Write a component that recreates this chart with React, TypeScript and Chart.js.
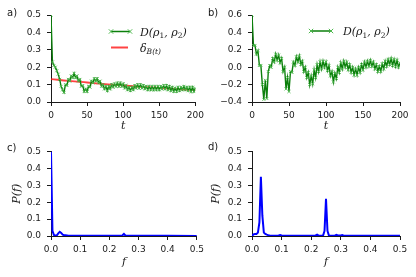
import React, { useEffect, useRef } from "react";
import { Chart, registerables } from "chart.js";

Chart.register(...registerables);
Chart.defaults.font.family = "DejaVu Sans";

// ---------- data ----------
const timeSteps = [
  0, 2, 4, 6, 8, 10, 12, 14, 16, 18,
  20, 22, 24, 26, 28, 30, 32, 34, 36, 38,
  40, 42, 44, 46, 48, 50, 52, 54, 56, 58,
  60, 62, 64, 66, 68, 70, 72, 74, 76, 78,
  80, 82, 84, 86, 88, 90, 92, 94, 96, 98,
  100, 102, 104, 106, 108, 110, 112, 114, 116, 118,
  120, 122, 124, 126, 128, 130, 132, 134, 136, 138,
  140, 142, 144, 146, 148, 150, 152, 154, 156, 158,
  160, 162, 164, 166, 168, 170, 172, 174, 176, 178,
  180, 182, 184, 186, 188, 190, 192, 194, 196, 198,
  200,
];

const distanceA = [
  0.50, 0.23, 0.21, 0.20, 0.18, 0.16, 0.13, 0.09, 0.07, 0.055,
  0.10, 0.095, 0.13, 0.12, 0.15, 0.14, 0.165, 0.14, 0.15, 0.12,
  0.13, 0.09, 0.095, 0.06, 0.075, 0.06, 0.09, 0.085, 0.12, 0.11,
  0.135, 0.12, 0.135, 0.11, 0.12, 0.09, 0.10, 0.075, 0.09, 0.065,
  0.09, 0.075, 0.10, 0.085, 0.105, 0.09, 0.11, 0.09, 0.11, 0.09,
  0.105, 0.08, 0.095, 0.07, 0.085, 0.065, 0.085, 0.07, 0.095, 0.08,
  0.10, 0.08, 0.10, 0.08, 0.095, 0.075, 0.09, 0.07, 0.09, 0.07,
  0.09, 0.07, 0.09, 0.07, 0.09, 0.07, 0.09, 0.075, 0.095, 0.075,
  0.095, 0.07, 0.09, 0.065, 0.085, 0.06, 0.08, 0.06, 0.085, 0.065,
  0.085, 0.07, 0.09, 0.07, 0.085, 0.065, 0.085, 0.06, 0.085, 0.06,
  0.08,
];

const boundTimes = [0, 25, 50, 75, 100, 125, 150, 175, 200];
const boundValues = [0.132, 0.121, 0.112, 0.103, 0.095, 0.087, 0.081, 0.074, 0.068];

const distanceB = [
  0.60, 0.25, 0.25, 0.15, 0.19, 0.02, 0.02, -0.20, -0.37, -0.15,
  -0.36, -0.05, 0.02, 0.00, 0.10, 0.06, 0.15, 0.08, 0.14, 0.05,
  0.10, -0.05, 0.00, -0.25, -0.12, -0.28, -0.05, -0.06, 0.06, 0.02,
  0.12, 0.06, 0.13, 0.03, 0.07, -0.05, 0.00, -0.12, -0.06, -0.20,
  -0.10, -0.19, -0.03, -0.12, 0.03, -0.05, 0.06, -0.02, 0.07, 0.00,
  0.06, -0.04, 0.02, -0.10, -0.05, -0.17, -0.07, -0.13, 0.00, -0.06,
  0.05, -0.02, 0.07, 0.00, 0.06, -0.03, 0.03, -0.06, 0.00, -0.09,
  -0.02, -0.09, 0.00, -0.06, 0.03, -0.03, 0.06, 0.00, 0.07, 0.01,
  0.08, 0.01, 0.06, -0.02, 0.03, -0.05, 0.01, -0.05, 0.04, -0.02,
  0.07, 0.01, 0.09, 0.03, 0.10, 0.02, 0.09, 0.01, 0.08, 0.00,
  0.05,
];

const freqC = [0, 0.005, 0.01, 0.015, 0.02, 0.025, 0.03, 0.035, 0.04, 0.045, 0.05, 0.06, 0.08, 0.1, 0.15, 0.2, 0.24, 0.245, 0.25, 0.255, 0.26, 0.3, 0.4, 0.5];
const powerC = [0.5, 0.03, 0.006, 0.002, 0.004, 0.016, 0.025, 0.018, 0.008, 0.005, 0.004, 0.002, 0.001, 0.001, 0.001, 0.001, 0.001, 0.004, 0.012, 0.003, 0.001, 0.001, 0.001, 0.0];

const freqD = [0, 0.005, 0.01, 0.015, 0.02, 0.025, 0.03, 0.035, 0.04, 0.045, 0.05, 0.055, 0.06, 0.07, 0.09, 0.095, 0.1, 0.12, 0.2, 0.215, 0.22, 0.225, 0.24, 0.245, 0.25, 0.255, 0.26, 0.28, 0.285, 0.29, 0.3, 0.305, 0.31, 0.35, 0.5];
const powerD = [0.0, 0.01, 0.012, 0.012, 0.02, 0.08, 0.35, 0.12, 0.02, 0.012, 0.008, 0.005, 0.003, 0.002, 0.003, 0.006, 0.003, 0.001, 0.001, 0.003, 0.008, 0.002, 0.002, 0.03, 0.22, 0.03, 0.002, 0.002, 0.007, 0.003, 0.003, 0.005, 0.002, 0.001, 0.001];

const timeTicks = [0, 50, 100, 150, 200];
const freqTicks = [0, 0.1, 0.2, 0.3, 0.4, 0.5];
const yTicksA = [0, 0.1, 0.2, 0.3, 0.4, 0.5];
const yTicksB = [-0.4, -0.2, 0, 0.2, 0.4, 0.6];
const yTicksP = [0, 0.1, 0.2, 0.3, 0.4, 0.5];

const labelD = "D(ρ1, ρ2)";
const labelDelta = "δB(t)";

// ---------- styling helpers ----------
const GREEN_LINE = "#0b7f0b";
const GREEN_MARK = "#4cb84c";
const RED = "rgba(255,20,20,0.8)";
const BLUE = "#0000ff";
const INK = "#1a1a1a";

const zip = (xs: number[], ys: number[]) => xs.map((x, i) => ({ x, y: ys[i] }));
const fmt1 = (v: number) => {
  const s = (Math.abs(v) < 1e-9 ? 0 : v).toFixed(1);
  return s.replace("-", "\u2212");
};

function fixedTicks(values: number[]) {
  return (scale: any) => {
    scale.ticks = values.map((v) => ({ value: v }));
  };
}

function xAxis(min: number, max: number, ticks: number[], title: string, fitH: number, titlePad: number, fmt: (v: number) => string) {
  return {
    type: "linear",
    min,
    max,
    afterBuildTicks: fixedTicks(ticks),
    afterFit: (s: any) => {
      s.height = fitH;
    },
    ticks: { color: INK, font: { size: 9 }, padding: 4, maxRotation: 0, autoSkip: false, callback: (v: any) => fmt(Number(v)) },
    grid: { display: true, drawOnChartArea: false, drawTicks: true, tickLength: 4, tickColor: INK, lineWidth: 1 },
    border: { display: true, color: INK, width: 1 },
    title: { display: true, text: title, color: INK, font: { family: "DejaVu Serif", style: "italic", size: 11 }, padding: { top: 0, bottom: titlePad } },
  };
}

function yAxis(min: number, max: number, ticks: number[], fitW: number, title: string | null, titlePad: number) {
  return {
    type: "linear",
    min,
    max,
    afterBuildTicks: fixedTicks(ticks),
    afterFit: (s: any) => {
      s.width = fitW;
    },
    ticks: { color: INK, font: { size: 9 }, padding: 6, autoSkip: false, callback: (v: any) => fmt1(Number(v)) },
    grid: { display: true, drawOnChartArea: false, drawTicks: true, tickLength: 4, tickColor: INK, lineWidth: 1 },
    border: { display: true, color: INK, width: 1 },
    title: title
      ? { display: true, text: title, color: INK, font: { family: "DejaVu Serif", style: "italic", size: 11 }, padding: { top: titlePad, bottom: 0 } }
      : { display: false },
  };
}

type Part = [string, "i" | "s" | "si"];

function drawMath(ctx: CanvasRenderingContext2D, x: number, y: number, parts: Part[]) {
  ctx.fillStyle = INK;
  ctx.textBaseline = "alphabetic";
  ctx.textAlign = "left";
  for (const [txt, kind] of parts) {
    if (kind === "i") {
      ctx.font = 'italic 11px "DejaVu Serif"';
      ctx.fillText(txt, x, y);
    } else if (kind === "s") {
      ctx.font = '7.5px "DejaVu Serif"';
      ctx.fillText(txt, x, y + 2.5);
    } else {
      ctx.font = 'italic 7.5px "DejaVu Serif"';
      ctx.fillText(txt, x, y + 2.5);
    }
    x += ctx.measureText(txt).width;
  }
}

function drawX(ctx: CanvasRenderingContext2D, x: number, y: number, r: number) {
  ctx.beginPath();
  ctx.moveTo(x - r, y - r);
  ctx.lineTo(x + r, y + r);
  ctx.moveTo(x - r, y + r);
  ctx.lineTo(x + r, y - r);
  ctx.stroke();
}

type LegendEntry = { kind: "green" | "red"; x0: number; x1: number; y: number; tx: number; parts: Part[] };

function legendPlugin(entries: LegendEntry[]) {
  return {
    id: "mathLegend",
    afterDraw(chart: any) {
      const ctx: CanvasRenderingContext2D = chart.ctx;
      ctx.save();
      for (const e of entries) {
        if (e.kind === "green") {
          ctx.strokeStyle = GREEN_LINE;
          ctx.lineWidth = 1.5;
          ctx.beginPath();
          ctx.moveTo(e.x0, e.y);
          ctx.lineTo(e.x1, e.y);
          ctx.stroke();
          ctx.strokeStyle = GREEN_MARK;
          ctx.lineWidth = 1;
          drawX(ctx, e.x0, e.y, 2.2);
          drawX(ctx, e.x1, e.y, 2.2);
        } else {
          ctx.strokeStyle = RED;
          ctx.lineWidth = 2;
          ctx.beginPath();
          ctx.moveTo(e.x0, e.y);
          ctx.lineTo(e.x1, e.y);
          ctx.stroke();
        }
        drawMath(ctx, e.tx, e.y + 4, e.parts);
      }
      ctx.restore();
    },
  };
}

const partsD: Part[] = [["D(ρ", "i"], ["1", "s"], [", ρ", "i"], ["2", "s"], [")", "i"]];
const partsDelta: Part[] = [["δ", "i"], ["B(t)", "si"]];

function greenDataset(ys: number[]) {
  return {
    label: labelD,
    data: zip(timeSteps, ys),
    borderColor: GREEN_LINE,
    borderWidth: 1.4,
    pointStyle: "crossRot",
    pointRadius: 2.1,
    pointBorderWidth: 0.9,
    pointBorderColor: GREEN_MARK,
    pointBackgroundColor: GREEN_MARK,
    tension: 0,
  };
}

function configA() {
  return {
    type: "line",
    data: {
      datasets: [
        greenDataset(distanceA),
        { label: labelDelta, data: zip(boundTimes, boundValues), borderColor: RED, borderWidth: 1.8, pointRadius: 0, tension: 0.4 },
      ],
    },
    options: {
      animation: false,
      responsive: false,
      layout: { padding: { left: 0, right: 10, top: 15, bottom: 0 } },
      plugins: { legend: { display: false }, tooltip: { enabled: false } },
      scales: {
        x: xAxis(0, 200, timeTicks, "t", 38, 7, (v) => String(Math.round(v))),
        y: yAxis(0, 0.5, yTicksA, 51, null, 0),
      },
    },
    plugins: [
      legendPlugin([
        { kind: "green", x0: 111, x1: 130, y: 31.5, tx: 140, parts: partsD },
        { kind: "red", x0: 111, x1: 128, y: 47.5, tx: 140, parts: partsDelta },
      ]),
    ],
  };
}

function configB() {
  return {
    type: "line",
    data: { datasets: [greenDataset(distanceB)] },
    options: {
      animation: false,
      responsive: false,
      layout: { padding: { left: 0, right: 16, top: 15, bottom: 0 } },
      plugins: { legend: { display: false }, tooltip: { enabled: false } },
      scales: {
        x: xAxis(0, 200, timeTicks, "t", 38, 7, (v) => String(Math.round(v))),
        y: yAxis(-0.4, 0.6, yTicksB, 44, null, 0),
      },
    },
    plugins: [legendPlugin([{ kind: "green", x0: 103, x1: 123, y: 31, tx: 135, parts: partsD }])],
  };
}

function configSpectrum(f: number[], p: number[], left: number, right: number, titlePad: number) {
  return {
    type: "line",
    data: {
      datasets: [{ label: "P(f)", data: zip(f, p), borderColor: BLUE, borderWidth: 2, pointRadius: 0, tension: 0 }],
    },
    options: {
      animation: false,
      responsive: false,
      layout: { padding: { left: 0, right, top: 9, bottom: 0 } },
      plugins: { legend: { display: false }, tooltip: { enabled: false } },
      scales: {
        x: xAxis(0, 0.5, freqTicks, "f", 41, 8, fmt1),
        y: yAxis(0, 0.5, yTicksP, left, "P(f)", titlePad),
      },
    },
  };
}

function Panel({ left, top, width, height, make }: { left: number; top: number; width: number; height: number; make: () => any }) {
  const ref = useRef<HTMLCanvasElement>(null);
  useEffect(() => {
    const chart = new Chart(ref.current as HTMLCanvasElement, make());
    return () => chart.destroy();
  }, []);
  return (
    <div style={{ position: "absolute", left, top, width, height }}>
      <canvas ref={ref} width={width} height={height} style={{ width, height, display: "block" }} />
    </div>
  );
}

const tagStyle = (left: number, top: number): React.CSSProperties => ({
  position: "absolute",
  left,
  top,
  fontFamily: "DejaVu Sans",
  fontSize: 10,
  lineHeight: "12px",
  color: INK,
});

export default function App() {
  return (
    <div style={{ position: "fixed", left: 0, top: 0, width: 416, height: 277, background: "#fff", overflow: "hidden" }}>
      <Panel left={0} top={0} width={208} height={140} make={configA} />
      <Panel left={208} top={0} width={208} height={140} make={configB} />
      <Panel left={0} top={140} width={208} height={137} make={() => configSpectrum(freqC, powerC, 51, 10, 11)} />
      <Panel left={208} top={140} width={208} height={137} make={() => configSpectrum(freqD, powerD, 44, 16, 2)} />
      <span style={tagStyle(7, 7)}>a)</span>
      <span style={tagStyle(208, 7)}>b)</span>
      <span style={tagStyle(7, 142)}>c)</span>
      <span style={tagStyle(208, 141)}>d)</span>
    </div>
  );
}
